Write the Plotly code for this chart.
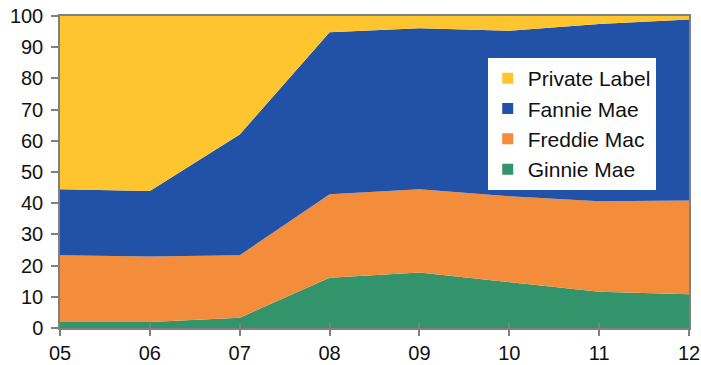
import plotly.graph_objects as go

years = ["05", "06", "07", "08", "09", "10", "11", "12"]
ginnie = [1.9, 1.9, 3.3, 16.1, 17.8, 14.8, 11.6, 10.8]
freddie = [21.4, 21.0, 20.0, 26.8, 26.7, 27.4, 29.0, 30.1]
fannie = [21.2, 21.0, 38.7, 51.9, 51.6, 53.1, 56.8, 58.0]
private = [55.5, 56.1, 38.0, 5.2, 3.9, 4.7, 2.6, 1.1]
y_ticks = [0, 10, 20, 30, 40, 50, 60, 70, 80, 90, 100]

series = [
    ("Ginnie Mae", ginnie, "#33936A", 4),
    ("Freddie Mac", freddie, "#F38D3B", 3),
    ("Fannie Mae", fannie, "#2152A8", 2),
    ("Private Label", private, "#FFC52F", 1),
]

fig = go.Figure()
xs = list(range(len(years)))
for name, vals, col, rank in series:
    fig.add_trace(go.Scatter(
        x=xs, y=vals, name=name, stackgroup="one", mode="lines",
        line=dict(width=0, color=col), fillcolor=col, showlegend=False,
        hoverinfo="y+name",
    ))
for name, vals, col, rank in series:
    fig.add_trace(go.Scatter(
        x=[None], y=[None], name=name, mode="markers",
        marker=dict(symbol="square", size=11, color=col),
        legendrank=rank, showlegend=True,
    ))

# invisible trace for the inner tick marks on x
fig.add_trace(go.Scatter(x=[xs[0]], y=[0], xaxis="x2", mode="markers",
                         marker=dict(opacity=0), showlegend=False, hoverinfo="skip"))

font = "Liberation Sans, Arial, sans-serif"
fig.update_layout(
    width=701, height=365,
    margin=dict(l=60, r=12, t=16, b=37),
    paper_bgcolor="white", plot_bgcolor="white",
    font=dict(family=font, color="#111111", size=20),
    showlegend=True,
    legend=dict(
        x=0.68, y=0.865, xanchor="left", yanchor="top",
        bgcolor="white", borderwidth=0,
        font=dict(size=21, family=font, color="#111111"),
        traceorder="normal", tracegroupgap=0,
        itemwidth=30,
    ),
    xaxis=dict(
        range=[0, len(years) - 1], tickmode="array", tickvals=xs, ticktext=years,
        showgrid=False, zeroline=False, showline=True, linecolor="#808080", linewidth=1.5,
        mirror=True, ticks="outside", ticklen=6, tickcolor="#808080", tickwidth=1.5,
        tickfont=dict(size=20), automargin=False, ticklabelstandoff=0,
    ),
    xaxis2=dict(
        range=[0, len(years) - 1], tickmode="array", tickvals=xs, ticktext=["" for _ in years],
        overlaying="x", side="bottom", anchor="y",
        showgrid=False, zeroline=False, showline=False,
        ticks="inside", ticklen=5, tickcolor="#808080", tickwidth=1.5, automargin=False,
    ),
    yaxis=dict(
        range=[0, 100], tickmode="array", tickvals=y_ticks,
        showgrid=False, zeroline=False, showline=True, linecolor="#808080", linewidth=1.5,
        mirror=True, ticks="outside", ticklen=7, tickcolor="#808080", tickwidth=1.5,
        tickfont=dict(size=20), automargin=False, ticklabelstandoff=4,
    ),
)

fig.write_html("out.html")
